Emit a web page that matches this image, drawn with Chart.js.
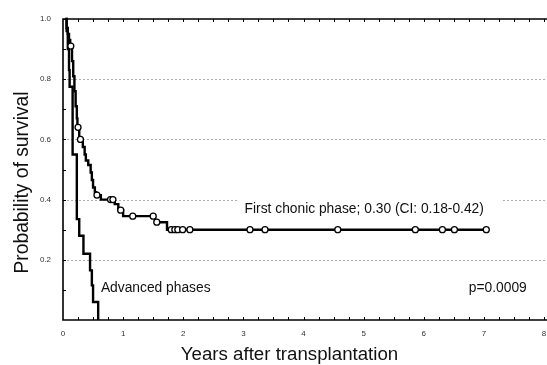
<!DOCTYPE html>
<html lang="en">
<head>
  <meta charset="UTF-8" />
  <title>Probability of survival after transplantation</title>
  <script src="https://cdn.jsdelivr.net/npm/chart.js"></script>
  <style>
    html, body { margin: 0; padding: 0; background: #fff; overflow: hidden; }
    #wrap { position: relative; width: 547px; height: 365px; }
  </style>
</head>
<body>
  <div id="wrap"><canvas id="survChart"></canvas></div>

  <script>
    // first chronic phase: step times (years) and survival after each step
    const firstTimes = [0.04, 0.06, 0.08, 0.10, 0.12, 0.15, 0.17, 0.19, 0.21, 0.23, 0.24, 0.27,
                        0.33, 0.36, 0.38, 0.42, 0.46, 0.48, 0.50, 0.53, 0.55, 0.63, 0.86, 0.92,
                        1.00, 1.53, 1.73, 7.04];
    const firstSurv  = [1.00, 0.97, 0.95, 0.93, 0.91, 0.86, 0.81, 0.76, 0.71, 0.67, 0.64, 0.60,
                        0.575, 0.55, 0.53, 0.515, 0.49, 0.465, 0.44, 0.425, 0.415, 0.40, 0.385, 0.365,
                        0.345, 0.325, 0.30, 0.30];
    // censored patients (open circles)
    const firstCensored = [0.13, 0.25, 0.29, 0.565, 0.79, 0.83, 0.96, 1.16, 1.50, 1.56,
                           1.80, 1.86, 1.91, 1.99, 2.11, 3.11, 3.36, 4.57, 5.86, 6.31, 6.51, 7.04];

    // advanced phases
    const advTimes = [0.04, 0.06, 0.08, 0.10, 0.11, 0.16, 0.23, 0.27, 0.34, 0.45, 0.48, 0.50, 0.585];
    const advSurv  = [1.00, 0.96, 0.90, 0.83, 0.775, 0.55, 0.335, 0.28, 0.22, 0.165, 0.115, 0.06, 0.0];

    const xTickValues = [0, 1, 2, 3, 4, 5, 6, 7, 8];
    const yTickValues = [0.2, 0.4, 0.6, 0.8, 1.0];
    const gridValues = [0.2, 0.4, 0.6, 0.8];

    const firstLabel = 'First chonic phase; 0.30 (CI: 0.18-0.42)';
    const advLabel = 'Advanced phases';
    const pLabel = 'p=0.0009';

    const FONT = 'Arial, "Liberation Sans", sans-serif';

    // survival value at time t (step function, used to put the circles on the curve)
    function survAt(t) {
      let s = 1;
      for (let i = 0; i < firstTimes.length; i++) {
        if (firstTimes[i] <= t + 1e-9) s = firstSurv[i];
      }
      return s;
    }

    const toPts = (xs, ys) => xs.map((v, i) => ({ x: v, y: ys[i] }));

    // shift a scale's title a little (the original titles are not centred on the plot)
    function shiftTitle(scale, dx, dy) {
      if (scale._shifted) return;
      const orig = scale.drawTitle.bind(scale);
      scale.drawTitle = function () {
        this.ctx.save();
        this.ctx.translate(dx, dy);
        orig();
        this.ctx.restore();
      };
      scale._shifted = true;
    }

    const framePlugin = {
      id: 'frame',
      afterLayout(chart) {
        shiftTitle(chart.scales.x, -14, 0);
        shiftTitle(chart.scales.y, 1, 13);
      },
      beforeDatasetsDraw(chart) {
        const { ctx, chartArea: a, scales: { x, y } } = chart;
        ctx.save();
        // dotted grid lines
        ctx.strokeStyle = '#adadad';
        ctx.lineWidth = 1;
        ctx.setLineDash([2, 2]);
        gridValues.forEach(v => {
          const py = Math.round(y.getPixelForValue(v)) + 0.5;
          ctx.beginPath();
          ctx.moveTo(a.left, py);
          ctx.lineTo(chart.width, py);
          ctx.stroke();
        });
        ctx.setLineDash([]);

        // labels
        ctx.font = '13.8px ' + FONT;
        ctx.textBaseline = 'middle';
        ctx.textAlign = 'left';
        const fx = x.getPixelForValue(3.02), fy = y.getPixelForValue(0.368);
        const fw = ctx.measureText(firstLabel).width;
        ctx.fillStyle = '#fff';
        ctx.fillRect(fx - 6, fy - 13, fw + 24, 26);
        ctx.fillStyle = '#111';
        ctx.fillText(firstLabel, fx, fy);
        ctx.fillText(advLabel, x.getPixelForValue(0.63), y.getPixelForValue(0.106));
        ctx.fillText(pLabel, x.getPixelForValue(6.75), y.getPixelForValue(0.106));
        ctx.restore();
      },
      afterDatasetsDraw(chart) {
        const { ctx, chartArea: a, scales: { x, y } } = chart;
        ctx.save();
        ctx.strokeStyle = '#000';
        ctx.lineWidth = 1;
        // minor ticks, pointing inward
        for (let v = 0.25; v <= 8; v += 0.25) {
          const px = Math.round(x.getPixelForValue(v)) + 0.5;
          ctx.beginPath();
          ctx.moveTo(px, a.bottom); ctx.lineTo(px, a.bottom - 3);
          ctx.moveTo(px, a.top); ctx.lineTo(px, a.top + 3);
          ctx.stroke();
        }
        for (let v = 0.1; v < 1; v += 0.1) {
          const py = Math.round(y.getPixelForValue(v)) + 0.5;
          ctx.beginPath();
          ctx.moveTo(a.left, py); ctx.lineTo(a.left + 3, py);
          ctx.stroke();
        }
        // frame: left, top and bottom (right side is cut off in the original)
        ctx.lineWidth = 1.6;
        ctx.beginPath();
        ctx.moveTo(chart.width, a.top);
        ctx.lineTo(a.left, a.top);
        ctx.lineTo(a.left, a.bottom);
        ctx.lineTo(chart.width, a.bottom);
        ctx.stroke();
        ctx.restore();
      }
    };

    const ctx = document.getElementById('survChart').getContext('2d');
    new Chart(ctx, {
      type: 'line',
      data: {
        datasets: [
          {
            label: 'Censored',
            data: firstCensored.map(t => ({ x: t, y: survAt(t) })),
            showLine: false,
            pointStyle: 'circle',
            pointRadius: 3,
            pointBorderWidth: 1.3,
            pointBackgroundColor: '#fff',
            pointBorderColor: '#000',
            order: 0
          },
          {
            label: 'First chronic phase',
            data: toPts(firstTimes, firstSurv),
            stepped: true,
            borderColor: '#000',
            borderWidth: 2.4,
            pointRadius: 0,
            fill: false,
            order: 1
          },
          {
            label: 'Advanced phases',
            data: toPts(advTimes, advSurv),
            stepped: true,
            borderColor: '#000',
            borderWidth: 2.4,
            pointRadius: 0,
            fill: false,
            order: 2
          }
        ]
      },
      options: {
        responsive: true,
        maintainAspectRatio: false,
        animation: false,
        clip: false,
        layout: { autoPadding: false, padding: { top: 19, right: 3, left: 0, bottom: 0 } },
        plugins: {
          legend: { display: false },
          tooltip: { enabled: false }
        },
        scales: {
          x: {
            type: 'linear',
            min: 0,
            max: 8,
            afterBuildTicks: s => { s.ticks = xTickValues.map(v => ({ value: v })); },
            afterFit: s => { s.height = 45; s.paddingRight = 0; s.paddingLeft = 0; },
            ticks: {
              autoSkip: false,
              maxRotation: 0,
              padding: 9,
              color: '#333',
              font: { family: FONT, size: 8 },
              callback: v => String(v)
            },
            grid: { display: false, drawTicks: false },
            border: { display: false },
            title: {
              display: true,
              text: 'Years after transplantation',
              color: '#111',
              font: { family: FONT, size: 18.7, lineHeight: 1 },
              padding: { top: 0, bottom: 1 }
            }
          },
          y: {
            min: 0,
            max: 1,
            afterBuildTicks: s => { s.ticks = yTickValues.map(v => ({ value: v })); },
            afterFit: s => { s.width = 63; },
            ticks: {
              padding: 12,
              color: '#333',
              font: { family: FONT, size: 8 },
              callback: v => v.toFixed(1)
            },
            grid: { display: false, drawTicks: false },
            border: { display: false },
            title: {
              display: true,
              text: 'Probability of survival',
              color: '#111',
              font: { family: FONT, size: 19.3, lineHeight: 1 },
              padding: { top: 12, bottom: 0 }
            }
          }
        }
      },
      plugins: [framePlugin]
    });
  </script>
</body>
</html>
